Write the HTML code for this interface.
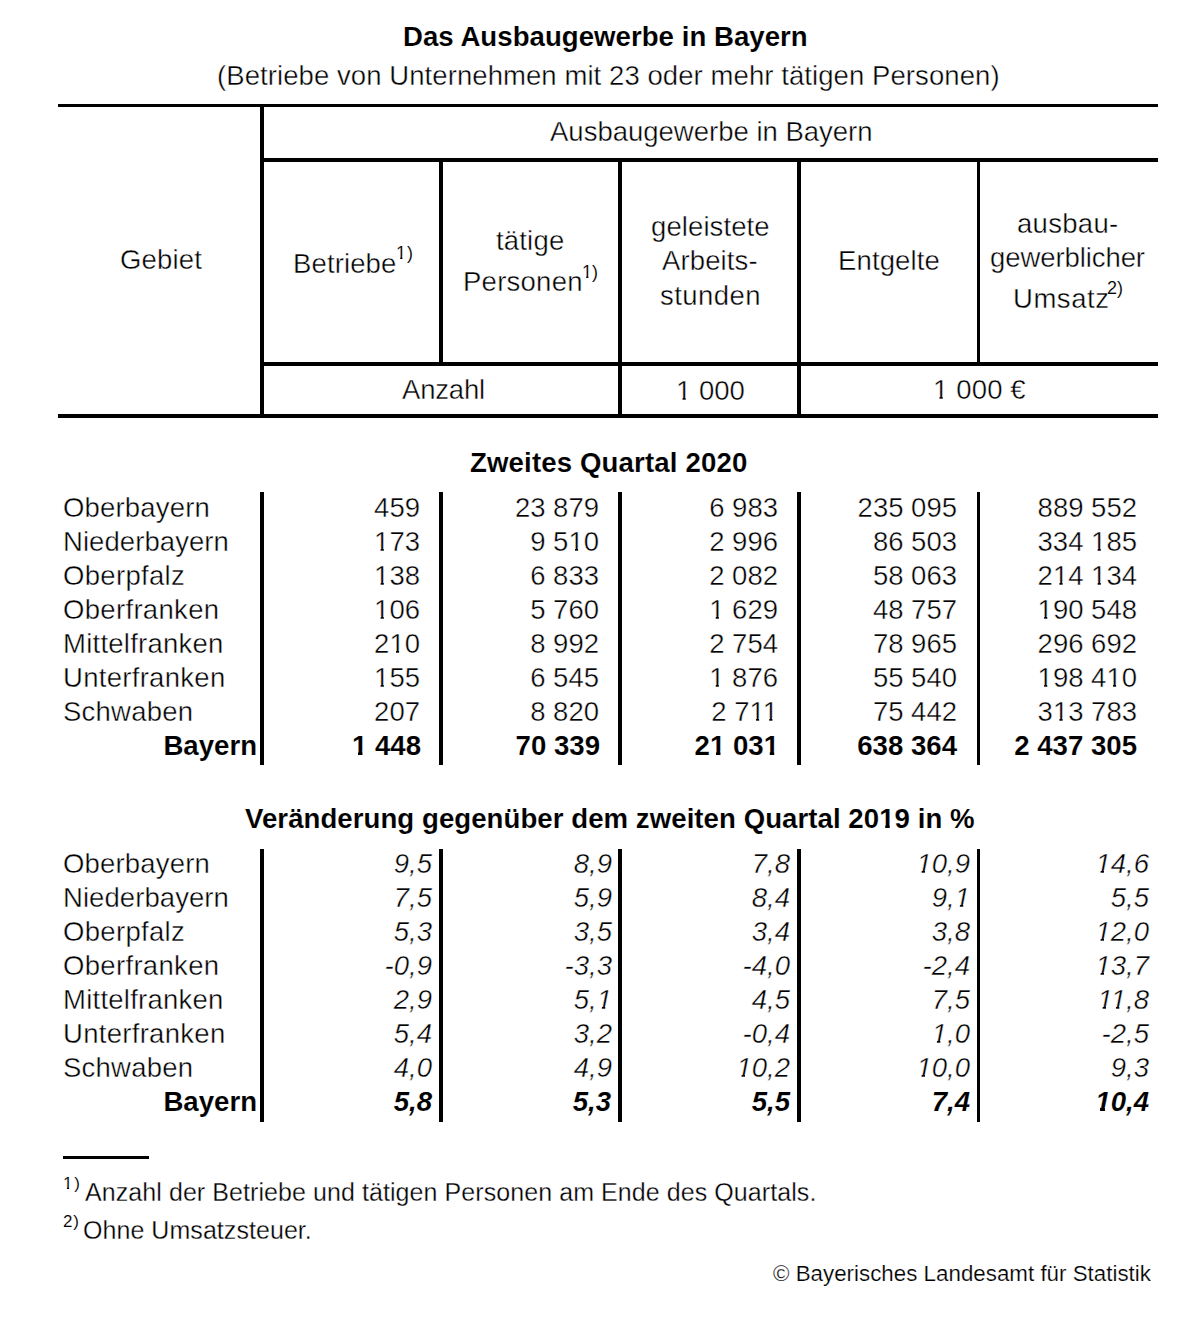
<!DOCTYPE html><html><head><meta charset="utf-8"><title>Das Ausbaugewerbe in Bayern</title><style>
html,body{margin:0;padding:0;background:#fff;}
body{width:1194px;height:1340px;position:relative;overflow:hidden;font-family:"Liberation Sans",sans-serif;color:#000;}
.t{position:absolute;white-space:pre;}
.l{position:absolute;background:#000;}
.r{font-weight:normal;font-style:normal}.b{font-weight:bold;font-style:normal}.i{font-weight:normal;font-style:italic}.bi{font-weight:bold;font-style:italic}
.r .o1{clip-path:polygon(-2px -2px, calc(100% + 2px) -2px, calc(100% + 2px) calc(100% - 0.212em - 0.0747em - 1.2px), calc(0.3398em + 0.35px) calc(100% - 0.212em - 0.0747em - 1.2px), calc(0.3398em + 0.35px) calc(100% + 2px), calc(0.2515em - 0.35px) calc(100% + 2px), calc(0.2515em - 0.35px) calc(100% - 0.212em - 0.0747em - 1.2px), -2px calc(100% - 0.212em - 0.0747em - 1.2px))}
.b .o1{clip-path:polygon(-2px -2px, calc(100% + 2px) -2px, calc(100% + 2px) calc(100% - 0.212em - 0.1021em - 1.2px), calc(0.3706em + 0.35px) calc(100% - 0.212em - 0.1021em - 1.2px), calc(0.3706em + 0.35px) calc(100% + 2px), calc(0.2334em - 0.35px) calc(100% + 2px), calc(0.2334em - 0.35px) calc(100% - 0.212em - 0.1021em - 1.2px), -2px calc(100% - 0.212em - 0.1021em - 1.2px))}
.i .o1{clip-path:polygon(-2px -2px, calc(100% + 2px) -2px, calc(100% + 2px) calc(100% - 0.212em - 0.0747em - 1.2px), calc(0.2979em + 0.35px) calc(100% - 0.212em - 0.0747em - 1.2px), calc(0.2979em + 0.35px) calc(100% + 2px), calc(0.2012em - 0.35px) calc(100% + 2px), calc(0.2012em - 0.35px) calc(100% - 0.212em - 0.0747em - 1.2px), -2px calc(100% - 0.212em - 0.0747em - 1.2px))}
.bi .o1{clip-path:polygon(-2px -2px, calc(100% + 2px) -2px, calc(100% + 2px) calc(100% - 0.212em - 0.1128em - 1.2px), calc(0.3369em + 0.35px) calc(100% - 0.212em - 0.1128em - 1.2px), calc(0.3369em + 0.35px) calc(100% + 2px), calc(0.1855em - 0.35px) calc(100% + 2px), calc(0.1855em - 0.35px) calc(100% - 0.212em - 0.1128em - 1.2px), -2px calc(100% - 0.212em - 0.1128em - 1.2px))}
</style></head><body>
<div class="l" style="left:58px;top:104px;width:1100px;height:3px"></div>
<div class="l" style="left:263px;top:158px;width:895px;height:4px"></div>
<div class="l" style="left:263px;top:362px;width:895px;height:4px"></div>
<div class="l" style="left:58px;top:414px;width:1100px;height:4px"></div>
<div class="l" style="left:260px;top:104px;width:4px;height:314px"></div>
<div class="l" style="left:439px;top:158px;width:4px;height:208px"></div>
<div class="l" style="left:618px;top:158px;width:4px;height:260px"></div>
<div class="l" style="left:797px;top:158px;width:4px;height:260px"></div>
<div class="l" style="left:977px;top:158px;width:3px;height:208px"></div>
<div class="l" style="left:63px;top:1156px;width:86px;height:3px"></div>
<div class="l" style="left:260px;top:492px;width:4px;height:273px"></div>
<div class="l" style="left:439px;top:492px;width:4px;height:273px"></div>
<div class="l" style="left:618px;top:492px;width:4px;height:273px"></div>
<div class="l" style="left:797px;top:492px;width:4px;height:273px"></div>
<div class="l" style="left:977px;top:492px;width:3px;height:273px"></div>
<div class="l" style="left:260px;top:849px;width:4px;height:273px"></div>
<div class="l" style="left:439px;top:849px;width:4px;height:273px"></div>
<div class="l" style="left:618px;top:849px;width:4px;height:273px"></div>
<div class="l" style="left:797px;top:849px;width:4px;height:273px"></div>
<div class="l" style="left:977px;top:849px;width:3px;height:273px"></div>
<div class="t b" style="left:403.00px;top:23.01px;font-size:27.6px;line-height:27.6px;letter-spacing:0.035px;-webkit-text-stroke:0.1px #fff">Das Ausbaugewerbe in Bayern</div>
<div class="t r" style="left:217.00px;top:62.01px;font-size:27.5px;line-height:27.5px;letter-spacing:0.076px;-webkit-text-stroke:0.4px #fff">(Betriebe von Unternehmen mit 23 oder mehr tätigen Personen)</div>
<div class="t r" style="left:550.00px;top:118.01px;font-size:27.5px;line-height:27.5px;-webkit-text-stroke:0.4px #fff">Ausbaugewerbe in Bayern</div>
<div class="t r" style="left:120.00px;top:246.01px;font-size:27.5px;line-height:27.5px;letter-spacing:0.180px;-webkit-text-stroke:0.4px #fff">Gebiet</div>
<div class="t r" style="left:293.00px;top:250.01px;font-size:27.5px;line-height:27.5px;letter-spacing:0.129px;-webkit-text-stroke:0.4px #fff">Betriebe</div>
<div class="t r" style="left:396.00px;top:244.01px;font-size:18px;line-height:18px;letter-spacing:0.900px;-webkit-text-stroke:0.1px #fff"><span class="o1">1</span>)</div>
<div class="t r" style="left:496.00px;top:227.01px;font-size:27.5px;line-height:27.5px;letter-spacing:0.180px;-webkit-text-stroke:0.4px #fff">tätige</div>
<div class="t r" style="left:463.00px;top:268.01px;font-size:27.5px;line-height:27.5px;letter-spacing:0.257px;-webkit-text-stroke:0.4px #fff">Personen</div>
<div class="t r" style="left:582.00px;top:263.01px;font-size:18px;line-height:18px;-webkit-text-stroke:0.1px #fff"><span class="o1">1</span>)</div>
<div class="t r" style="left:651.00px;top:213.01px;font-size:27.5px;line-height:27.5px;letter-spacing:0.100px;-webkit-text-stroke:0.4px #fff">geleistete</div>
<div class="t r" style="left:662.00px;top:247.01px;font-size:27.5px;line-height:27.5px;letter-spacing:0.129px;-webkit-text-stroke:0.4px #fff">Arbeits-</div>
<div class="t r" style="left:660.00px;top:282.01px;font-size:27.5px;line-height:27.5px;letter-spacing:0.450px;-webkit-text-stroke:0.4px #fff">stunden</div>
<div class="t r" style="left:838.00px;top:247.01px;font-size:27.5px;line-height:27.5px;letter-spacing:0.129px;-webkit-text-stroke:0.4px #fff">Entgelte</div>
<div class="t r" style="left:1017.00px;top:210.01px;font-size:27.5px;line-height:27.5px;letter-spacing:0.300px;-webkit-text-stroke:0.4px #fff">ausbau-</div>
<div class="t r" style="left:990.00px;top:244.01px;font-size:27.5px;line-height:27.5px;letter-spacing:-0.082px;-webkit-text-stroke:0.4px #fff">gewerblicher</div>
<div class="t r" style="left:1013.00px;top:285.01px;font-size:27.5px;line-height:27.5px;letter-spacing:0.540px;-webkit-text-stroke:0.4px #fff">Umsatz</div>
<div class="t r" style="left:1107.00px;top:279.01px;font-size:18px;line-height:18px;-webkit-text-stroke:0.1px #fff">2)</div>
<div class="t r" style="left:402.00px;top:376.01px;font-size:27.5px;line-height:27.5px;letter-spacing:-0.180px;-webkit-text-stroke:0.4px #fff">Anzahl</div>
<div class="t r" style="left:676.00px;top:377.01px;font-size:27.5px;line-height:27.5px;-webkit-text-stroke:0.4px #fff"><span class="o1">1</span> 000</div>
<div class="t r" style="left:933.00px;top:376.01px;font-size:27.5px;line-height:27.5px;letter-spacing:0.150px;-webkit-text-stroke:0.4px #fff"><span class="o1">1</span> 000 €</div>
<div class="t b" style="left:470.00px;top:449.01px;font-size:27.6px;line-height:27.6px;letter-spacing:0.142px;-webkit-text-stroke:0.1px #fff">Zweites Quartal 2020</div>
<div class="t b" style="left:245.00px;top:805.01px;font-size:27.6px;line-height:27.6px;letter-spacing:0.054px;-webkit-text-stroke:0.1px #fff">Veränderung gegenüber dem zweiten Quartal 20<span class="o1">1</span>9 in %</div>
<div class="t r" style="left:63.00px;top:1175.01px;font-size:17px;line-height:17px;letter-spacing:1.800px;-webkit-text-stroke:0.1px #fff"><span class="o1">1</span>)</div>
<div class="t r" style="left:85.00px;top:1180.00px;font-size:25px;line-height:25px;letter-spacing:0.074px;-webkit-text-stroke:0.3px #fff">Anzahl der Betriebe und tätigen Personen am Ende des Quartals.</div>
<div class="t r" style="left:63.00px;top:1213.01px;font-size:17px;line-height:17px;letter-spacing:0.900px;-webkit-text-stroke:0.1px #fff">2)</div>
<div class="t r" style="left:83.00px;top:1218.00px;font-size:25px;line-height:25px;letter-spacing:0.053px;-webkit-text-stroke:0.3px #fff">Ohne Umsatzsteuer.</div>
<div class="t r" style="left:773.00px;top:1263.01px;font-size:22.3px;line-height:22.3px;letter-spacing:0.025px;-webkit-text-stroke:0.2px #fff">© Bayerisches Landesamt für Statistik</div>
<div class="t r" style="left:63.00px;top:494.01px;font-size:27.5px;line-height:27.5px;letter-spacing:0.178px;-webkit-text-stroke:0.4px #fff">Oberbayern</div>
<div class="t r" style="left:63.00px;top:850.01px;font-size:27.5px;line-height:27.5px;letter-spacing:0.178px;-webkit-text-stroke:0.4px #fff">Oberbayern</div>
<div class="t r" style="left:63.00px;top:528.01px;font-size:27.5px;line-height:27.5px;letter-spacing:0.073px;-webkit-text-stroke:0.4px #fff">Niederbayern</div>
<div class="t r" style="left:63.00px;top:884.01px;font-size:27.5px;line-height:27.5px;letter-spacing:0.073px;-webkit-text-stroke:0.4px #fff">Niederbayern</div>
<div class="t r" style="left:63.00px;top:562.01px;font-size:27.5px;line-height:27.5px;letter-spacing:0.320px;-webkit-text-stroke:0.4px #fff">Oberpfalz</div>
<div class="t r" style="left:63.00px;top:918.01px;font-size:27.5px;line-height:27.5px;letter-spacing:0.320px;-webkit-text-stroke:0.4px #fff">Oberpfalz</div>
<div class="t r" style="left:63.00px;top:596.01px;font-size:27.5px;line-height:27.5px;letter-spacing:0.320px;-webkit-text-stroke:0.4px #fff">Oberfranken</div>
<div class="t r" style="left:63.00px;top:952.01px;font-size:27.5px;line-height:27.5px;letter-spacing:0.320px;-webkit-text-stroke:0.4px #fff">Oberfranken</div>
<div class="t r" style="left:63.00px;top:630.01px;font-size:27.5px;line-height:27.5px;letter-spacing:0.240px;-webkit-text-stroke:0.4px #fff">Mittelfranken</div>
<div class="t r" style="left:63.00px;top:986.01px;font-size:27.5px;line-height:27.5px;letter-spacing:0.240px;-webkit-text-stroke:0.4px #fff">Mittelfranken</div>
<div class="t r" style="left:63.00px;top:664.01px;font-size:27.5px;line-height:27.5px;letter-spacing:0.291px;-webkit-text-stroke:0.4px #fff">Unterfranken</div>
<div class="t r" style="left:63.00px;top:1020.01px;font-size:27.5px;line-height:27.5px;letter-spacing:0.291px;-webkit-text-stroke:0.4px #fff">Unterfranken</div>
<div class="t r" style="left:63.00px;top:698.01px;font-size:27.5px;line-height:27.5px;letter-spacing:0.229px;-webkit-text-stroke:0.4px #fff">Schwaben</div>
<div class="t r" style="left:63.00px;top:1054.01px;font-size:27.5px;line-height:27.5px;letter-spacing:0.229px;-webkit-text-stroke:0.4px #fff">Schwaben</div>
<div class="t b" style="right:937.00px;text-align:right;top:732.01px;font-size:27.6px;line-height:27.6px;-webkit-text-stroke:0.1px #fff">Bayern</div>
<div class="t b" style="right:937.00px;text-align:right;top:1088.01px;font-size:27.6px;line-height:27.6px;-webkit-text-stroke:0.1px #fff">Bayern</div>
<div class="t r" style="right:774.00px;text-align:right;top:494.01px;font-size:27.5px;line-height:27.5px;-webkit-text-stroke:0.4px #fff">459</div>
<div class="t r" style="right:595.00px;text-align:right;top:494.01px;font-size:27.5px;line-height:27.5px;-webkit-text-stroke:0.4px #fff">23 879</div>
<div class="t r" style="right:416.00px;text-align:right;top:494.01px;font-size:27.5px;line-height:27.5px;-webkit-text-stroke:0.4px #fff">6 983</div>
<div class="t r" style="right:237.00px;text-align:right;top:494.01px;font-size:27.5px;line-height:27.5px;-webkit-text-stroke:0.4px #fff">235 095</div>
<div class="t r" style="right:57.00px;text-align:right;top:494.01px;font-size:27.5px;line-height:27.5px;-webkit-text-stroke:0.4px #fff">889 552</div>
<div class="t r" style="right:774.00px;text-align:right;top:528.01px;font-size:27.5px;line-height:27.5px;-webkit-text-stroke:0.4px #fff"><span class="o1">1</span>73</div>
<div class="t r" style="right:595.00px;text-align:right;top:528.01px;font-size:27.5px;line-height:27.5px;-webkit-text-stroke:0.4px #fff">9 5<span class="o1">1</span>0</div>
<div class="t r" style="right:416.00px;text-align:right;top:528.01px;font-size:27.5px;line-height:27.5px;-webkit-text-stroke:0.4px #fff">2 996</div>
<div class="t r" style="right:237.00px;text-align:right;top:528.01px;font-size:27.5px;line-height:27.5px;-webkit-text-stroke:0.4px #fff">86 503</div>
<div class="t r" style="right:57.00px;text-align:right;top:528.01px;font-size:27.5px;line-height:27.5px;-webkit-text-stroke:0.4px #fff">334 <span class="o1">1</span>85</div>
<div class="t r" style="right:774.00px;text-align:right;top:562.01px;font-size:27.5px;line-height:27.5px;-webkit-text-stroke:0.4px #fff"><span class="o1">1</span>38</div>
<div class="t r" style="right:595.00px;text-align:right;top:562.01px;font-size:27.5px;line-height:27.5px;-webkit-text-stroke:0.4px #fff">6 833</div>
<div class="t r" style="right:416.00px;text-align:right;top:562.01px;font-size:27.5px;line-height:27.5px;-webkit-text-stroke:0.4px #fff">2 082</div>
<div class="t r" style="right:237.00px;text-align:right;top:562.01px;font-size:27.5px;line-height:27.5px;-webkit-text-stroke:0.4px #fff">58 063</div>
<div class="t r" style="right:57.00px;text-align:right;top:562.01px;font-size:27.5px;line-height:27.5px;-webkit-text-stroke:0.4px #fff">2<span class="o1">1</span>4 <span class="o1">1</span>34</div>
<div class="t r" style="right:774.00px;text-align:right;top:596.01px;font-size:27.5px;line-height:27.5px;-webkit-text-stroke:0.4px #fff"><span class="o1">1</span>06</div>
<div class="t r" style="right:595.00px;text-align:right;top:596.01px;font-size:27.5px;line-height:27.5px;-webkit-text-stroke:0.4px #fff">5 760</div>
<div class="t r" style="right:416.00px;text-align:right;top:596.01px;font-size:27.5px;line-height:27.5px;-webkit-text-stroke:0.4px #fff"><span class="o1">1</span> 629</div>
<div class="t r" style="right:237.00px;text-align:right;top:596.01px;font-size:27.5px;line-height:27.5px;-webkit-text-stroke:0.4px #fff">48 757</div>
<div class="t r" style="right:57.00px;text-align:right;top:596.01px;font-size:27.5px;line-height:27.5px;-webkit-text-stroke:0.4px #fff"><span class="o1">1</span>90 548</div>
<div class="t r" style="right:774.00px;text-align:right;top:630.01px;font-size:27.5px;line-height:27.5px;-webkit-text-stroke:0.4px #fff">2<span class="o1">1</span>0</div>
<div class="t r" style="right:595.00px;text-align:right;top:630.01px;font-size:27.5px;line-height:27.5px;-webkit-text-stroke:0.4px #fff">8 992</div>
<div class="t r" style="right:416.00px;text-align:right;top:630.01px;font-size:27.5px;line-height:27.5px;-webkit-text-stroke:0.4px #fff">2 754</div>
<div class="t r" style="right:237.00px;text-align:right;top:630.01px;font-size:27.5px;line-height:27.5px;-webkit-text-stroke:0.4px #fff">78 965</div>
<div class="t r" style="right:57.00px;text-align:right;top:630.01px;font-size:27.5px;line-height:27.5px;-webkit-text-stroke:0.4px #fff">296 692</div>
<div class="t r" style="right:774.00px;text-align:right;top:664.01px;font-size:27.5px;line-height:27.5px;-webkit-text-stroke:0.4px #fff"><span class="o1">1</span>55</div>
<div class="t r" style="right:595.00px;text-align:right;top:664.01px;font-size:27.5px;line-height:27.5px;-webkit-text-stroke:0.4px #fff">6 545</div>
<div class="t r" style="right:416.00px;text-align:right;top:664.01px;font-size:27.5px;line-height:27.5px;-webkit-text-stroke:0.4px #fff"><span class="o1">1</span> 876</div>
<div class="t r" style="right:237.00px;text-align:right;top:664.01px;font-size:27.5px;line-height:27.5px;-webkit-text-stroke:0.4px #fff">55 540</div>
<div class="t r" style="right:57.00px;text-align:right;top:664.01px;font-size:27.5px;line-height:27.5px;-webkit-text-stroke:0.4px #fff"><span class="o1">1</span>98 4<span class="o1">1</span>0</div>
<div class="t r" style="right:774.00px;text-align:right;top:698.01px;font-size:27.5px;line-height:27.5px;-webkit-text-stroke:0.4px #fff">207</div>
<div class="t r" style="right:595.00px;text-align:right;top:698.01px;font-size:27.5px;line-height:27.5px;-webkit-text-stroke:0.4px #fff">8 820</div>
<div class="t r" style="right:416.00px;text-align:right;top:698.01px;font-size:27.5px;line-height:27.5px;-webkit-text-stroke:0.4px #fff">2 7<span class="o1">1</span><span class="o1">1</span></div>
<div class="t r" style="right:237.00px;text-align:right;top:698.01px;font-size:27.5px;line-height:27.5px;-webkit-text-stroke:0.4px #fff">75 442</div>
<div class="t r" style="right:57.00px;text-align:right;top:698.01px;font-size:27.5px;line-height:27.5px;-webkit-text-stroke:0.4px #fff">3<span class="o1">1</span>3 783</div>
<div class="t b" style="right:773.00px;text-align:right;top:732.01px;font-size:27.6px;line-height:27.6px;-webkit-text-stroke:0.1px #fff"><span class="o1">1</span> 448</div>
<div class="t b" style="right:594.00px;text-align:right;top:732.01px;font-size:27.6px;line-height:27.6px;-webkit-text-stroke:0.1px #fff">70 339</div>
<div class="t b" style="right:415.00px;text-align:right;top:732.01px;font-size:27.6px;line-height:27.6px;-webkit-text-stroke:0.1px #fff">2<span class="o1">1</span> 03<span class="o1">1</span></div>
<div class="t b" style="right:237.00px;text-align:right;top:732.01px;font-size:27.6px;line-height:27.6px;-webkit-text-stroke:0.1px #fff">638 364</div>
<div class="t b" style="right:57.00px;text-align:right;top:732.01px;font-size:27.6px;line-height:27.6px;-webkit-text-stroke:0.1px #fff">2 437 305</div>
<div class="t i" style="right:762.00px;text-align:right;top:850.01px;font-size:27.5px;line-height:27.5px;-webkit-text-stroke:0.4px #fff">9,5</div>
<div class="t i" style="right:582.00px;text-align:right;top:850.01px;font-size:27.5px;line-height:27.5px;-webkit-text-stroke:0.4px #fff">8,9</div>
<div class="t i" style="right:404.00px;text-align:right;top:850.01px;font-size:27.5px;line-height:27.5px;-webkit-text-stroke:0.4px #fff">7,8</div>
<div class="t i" style="right:224.00px;text-align:right;top:850.01px;font-size:27.5px;line-height:27.5px;-webkit-text-stroke:0.4px #fff"><span class="o1">1</span>0,9</div>
<div class="t i" style="right:45.00px;text-align:right;top:850.01px;font-size:27.5px;line-height:27.5px;-webkit-text-stroke:0.4px #fff"><span class="o1">1</span>4,6</div>
<div class="t i" style="right:762.00px;text-align:right;top:884.01px;font-size:27.5px;line-height:27.5px;-webkit-text-stroke:0.4px #fff">7,5</div>
<div class="t i" style="right:582.00px;text-align:right;top:884.01px;font-size:27.5px;line-height:27.5px;-webkit-text-stroke:0.4px #fff">5,9</div>
<div class="t i" style="right:404.00px;text-align:right;top:884.01px;font-size:27.5px;line-height:27.5px;-webkit-text-stroke:0.4px #fff">8,4</div>
<div class="t i" style="right:224.00px;text-align:right;top:884.01px;font-size:27.5px;line-height:27.5px;-webkit-text-stroke:0.4px #fff">9,<span class="o1">1</span></div>
<div class="t i" style="right:45.00px;text-align:right;top:884.01px;font-size:27.5px;line-height:27.5px;-webkit-text-stroke:0.4px #fff">5,5</div>
<div class="t i" style="right:762.00px;text-align:right;top:918.01px;font-size:27.5px;line-height:27.5px;-webkit-text-stroke:0.4px #fff">5,3</div>
<div class="t i" style="right:582.00px;text-align:right;top:918.01px;font-size:27.5px;line-height:27.5px;-webkit-text-stroke:0.4px #fff">3,5</div>
<div class="t i" style="right:404.00px;text-align:right;top:918.01px;font-size:27.5px;line-height:27.5px;-webkit-text-stroke:0.4px #fff">3,4</div>
<div class="t i" style="right:224.00px;text-align:right;top:918.01px;font-size:27.5px;line-height:27.5px;-webkit-text-stroke:0.4px #fff">3,8</div>
<div class="t i" style="right:45.00px;text-align:right;top:918.01px;font-size:27.5px;line-height:27.5px;-webkit-text-stroke:0.4px #fff"><span class="o1">1</span>2,0</div>
<div class="t i" style="right:762.00px;text-align:right;top:952.01px;font-size:27.5px;line-height:27.5px;-webkit-text-stroke:0.4px #fff">-0,9</div>
<div class="t i" style="right:582.00px;text-align:right;top:952.01px;font-size:27.5px;line-height:27.5px;-webkit-text-stroke:0.4px #fff">-3,3</div>
<div class="t i" style="right:404.00px;text-align:right;top:952.01px;font-size:27.5px;line-height:27.5px;-webkit-text-stroke:0.4px #fff">-4,0</div>
<div class="t i" style="right:224.00px;text-align:right;top:952.01px;font-size:27.5px;line-height:27.5px;-webkit-text-stroke:0.4px #fff">-2,4</div>
<div class="t i" style="right:45.00px;text-align:right;top:952.01px;font-size:27.5px;line-height:27.5px;-webkit-text-stroke:0.4px #fff"><span class="o1">1</span>3,7</div>
<div class="t i" style="right:762.00px;text-align:right;top:986.01px;font-size:27.5px;line-height:27.5px;-webkit-text-stroke:0.4px #fff">2,9</div>
<div class="t i" style="right:582.00px;text-align:right;top:986.01px;font-size:27.5px;line-height:27.5px;-webkit-text-stroke:0.4px #fff">5,<span class="o1">1</span></div>
<div class="t i" style="right:404.00px;text-align:right;top:986.01px;font-size:27.5px;line-height:27.5px;-webkit-text-stroke:0.4px #fff">4,5</div>
<div class="t i" style="right:224.00px;text-align:right;top:986.01px;font-size:27.5px;line-height:27.5px;-webkit-text-stroke:0.4px #fff">7,5</div>
<div class="t i" style="right:45.00px;text-align:right;top:986.01px;font-size:27.5px;line-height:27.5px;-webkit-text-stroke:0.4px #fff"><span class="o1">1</span><span class="o1">1</span>,8</div>
<div class="t i" style="right:762.00px;text-align:right;top:1020.01px;font-size:27.5px;line-height:27.5px;-webkit-text-stroke:0.4px #fff">5,4</div>
<div class="t i" style="right:582.00px;text-align:right;top:1020.01px;font-size:27.5px;line-height:27.5px;-webkit-text-stroke:0.4px #fff">3,2</div>
<div class="t i" style="right:404.00px;text-align:right;top:1020.01px;font-size:27.5px;line-height:27.5px;-webkit-text-stroke:0.4px #fff">-0,4</div>
<div class="t i" style="right:224.00px;text-align:right;top:1020.01px;font-size:27.5px;line-height:27.5px;-webkit-text-stroke:0.4px #fff"><span class="o1">1</span>,0</div>
<div class="t i" style="right:45.00px;text-align:right;top:1020.01px;font-size:27.5px;line-height:27.5px;-webkit-text-stroke:0.4px #fff">-2,5</div>
<div class="t i" style="right:762.00px;text-align:right;top:1054.01px;font-size:27.5px;line-height:27.5px;-webkit-text-stroke:0.4px #fff">4,0</div>
<div class="t i" style="right:582.00px;text-align:right;top:1054.01px;font-size:27.5px;line-height:27.5px;-webkit-text-stroke:0.4px #fff">4,9</div>
<div class="t i" style="right:404.00px;text-align:right;top:1054.01px;font-size:27.5px;line-height:27.5px;-webkit-text-stroke:0.4px #fff"><span class="o1">1</span>0,2</div>
<div class="t i" style="right:224.00px;text-align:right;top:1054.01px;font-size:27.5px;line-height:27.5px;-webkit-text-stroke:0.4px #fff"><span class="o1">1</span>0,0</div>
<div class="t i" style="right:45.00px;text-align:right;top:1054.01px;font-size:27.5px;line-height:27.5px;-webkit-text-stroke:0.4px #fff">9,3</div>
<div class="t bi" style="right:762.00px;text-align:right;top:1088.01px;font-size:27.6px;line-height:27.6px;-webkit-text-stroke:0.1px #fff">5,8</div>
<div class="t bi" style="right:583.00px;text-align:right;top:1088.01px;font-size:27.6px;line-height:27.6px;-webkit-text-stroke:0.1px #fff">5,3</div>
<div class="t bi" style="right:404.00px;text-align:right;top:1088.01px;font-size:27.6px;line-height:27.6px;-webkit-text-stroke:0.1px #fff">5,5</div>
<div class="t bi" style="right:224.00px;text-align:right;top:1088.01px;font-size:27.6px;line-height:27.6px;-webkit-text-stroke:0.1px #fff">7,4</div>
<div class="t bi" style="right:45.00px;text-align:right;top:1088.01px;font-size:27.6px;line-height:27.6px;-webkit-text-stroke:0.1px #fff"><span class="o1">1</span>0,4</div>
</body></html>
